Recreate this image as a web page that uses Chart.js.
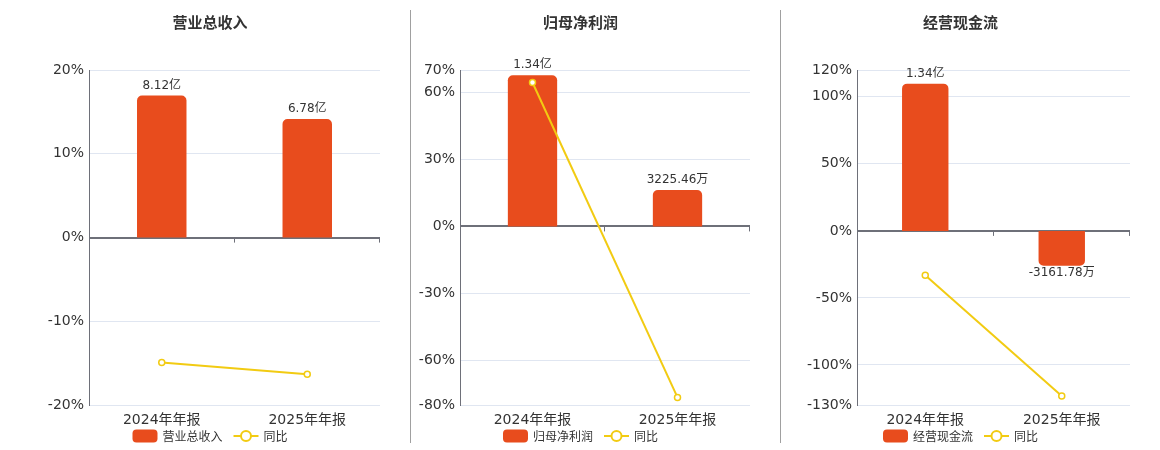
<!DOCTYPE html>
<html>
<head>
<meta charset="utf-8">
<script src="https://cdn.jsdelivr.net/npm/chart.js@4/dist/chart.umd.min.js"></script>
<style>
  body { margin: 0; background: #fff; }
  #wrap { position: relative; width: 1160px; height: 450px; }
  .panel { position: absolute; top: 0; height: 450px; }
  .sep { position: absolute; top: 10px; height: 433px; width: 1px; background: #a0a0a0; }
</style>
</head>
<body>
<div id="wrap">
  <div class="panel" style="left:40px;width:370px"><canvas id="c1"></canvas></div>
  <div class="sep" style="left:410px"></div>
  <div class="panel" style="left:411px;width:369px"><canvas id="c2"></canvas></div>
  <div class="sep" style="left:780px"></div>
  <div class="panel" style="left:791px;width:369px"><canvas id="c3"></canvas></div>
</div>
<script>
// values in 万元, yoy in %
const categories = ['2024年年报', '2025年年报'];

const revenue = [81200, 67800];
const revenueYoY = [-14.9, -16.3];
const revenueTicks = [-20, -10, 0, 10, 20];

const netProfit = [13400, 3225.46];
const netProfitYoY = [64.4, -76.5];
const netProfitTicks = [-80, -60, -30, 0, 30, 60, 70];

const cashFlow = [13400, -3161.78];
const cashFlowYoY = [-33.0, -123.1];
const cashFlowTicks = [-130, -100, -50, 0, 50, 100, 120];

const BAR_COLOR = '#e84c1d';
const LINE_COLOR = '#f2cb12';
const FONT = '"DejaVu Sans", "Noto Sans CJK SC", sans-serif';
const CJK = '"Noto Sans CJK SC", sans-serif';

function fmtAmount(v) {
  if (Math.abs(v) >= 10000) return (v / 10000).toFixed(2) + '亿';
  return v.toFixed(2) + '万';
}

const barLabels = {
  id: 'barLabels',
  afterDatasetsDraw(chart) {
    const ctx = chart.ctx;
    const meta = chart.getDatasetMeta(0);
    const data = chart.data.datasets[0].data;
    ctx.save();
    ctx.font = '12px ' + FONT;
    ctx.fillStyle = '#333';
    ctx.textAlign = 'center';
    ctx.textBaseline = 'middle';
    meta.data.forEach((el, i) => {
      const v = data[i];
      const y = v >= 0 ? el.y - 10 : el.y + 7;
      ctx.fillText(fmtAmount(v), el.x, y);
    });
    ctx.restore();
  }
};

const zeroTicks = {
  id: 'zeroTicks',
  afterDatasetsDraw(chart) {
    const x = chart.scales.x;
    const y0 = chart.scales.y.getPixelForValue(0);
    const ctx = chart.ctx;
    const n = chart.data.labels.length;
    ctx.save();
    ctx.strokeStyle = '#6e7079';
    ctx.lineWidth = 1;
    for (let i = 1; i <= n; i++) {
      const px = Math.round(x.left + i * (x.width / n)) - 0.5;
      ctx.beginPath();
      ctx.moveTo(px, y0);
      ctx.lineTo(px, y0 + 5);
      ctx.stroke();
    }
    ctx.restore();
  }
};

const bottomLegend = {
  id: 'bottomLegend',
  afterDraw(chart) {
    const ctx = chart.ctx;
    const ds = chart.data.datasets;
    ctx.save();
    ctx.font = '12px ' + CJK;
    const w0 = ctx.measureText(ds[0].label).width;
    const w1 = ctx.measureText(ds[1].label).width;
    const total = 25 + 5 + w0 + 11 + 25 + 5 + w1;
    let x = chart.chartArea.right / 2 - total / 2;
    const cy = 436;
    ctx.fillStyle = BAR_COLOR;
    ctx.beginPath();
    ctx.roundRect(x, cy - 6.5, 25, 13, 4);
    ctx.fill();
    x += 30;
    ctx.fillStyle = '#333';
    ctx.textBaseline = 'middle';
    ctx.fillText(ds[0].label, x, cy);
    x += w0 + 11;
    ctx.strokeStyle = LINE_COLOR;
    ctx.lineWidth = 2;
    ctx.beginPath();
    ctx.moveTo(x, cy);
    ctx.lineTo(x + 25, cy);
    ctx.stroke();
    ctx.beginPath();
    ctx.arc(x + 12.5, cy, 5, 0, Math.PI * 2);
    ctx.fillStyle = '#fff';
    ctx.fill();
    ctx.stroke();
    x += 30;
    ctx.fillStyle = '#333';
    ctx.fillText(ds[1].label, x, cy);
    ctx.restore();
  }
};

function makeChart(id, title, bars, yoy, ticks, barRange, axisWidth) {
  new Chart(document.getElementById(id), {
    type: 'bar',
    data: {
      labels: categories,
      datasets: [
        {
          type: 'bar',
          label: title,
          data: bars,
          yAxisID: 'y2',
          backgroundColor: BAR_COLOR,
          borderRadius: 5,
          categoryPercentage: 1,
          barPercentage: 0.34,
          order: 1
        },
        {
          type: 'line',
          label: '同比',
          data: yoy,
          yAxisID: 'y',
          borderColor: LINE_COLOR,
          borderWidth: 2,
          pointRadius: 3,
          pointBorderWidth: 1.5,
          pointBackgroundColor: '#fff',
          pointBorderColor: LINE_COLOR,
          order: 0
        }
      ]
    },
    options: {
      responsive: true,
      maintainAspectRatio: false,
      animation: false,
      layout: { padding: { right: 30, bottom: 14 } },
      plugins: {
        legend: { display: false },
        tooltip: { enabled: false },
        title: {
          display: true,
          text: title,
          color: '#333',
          font: { size: 15, weight: 'bold', family: CJK },
          padding: { top: 13, bottom: 39 }
        }
      },
      scales: {
        x: {
          grid: { display: false, drawTicks: false },
          border: { display: false },
          ticks: { color: '#333', font: { size: 14, family: FONT }, padding: 7 }
        },
        y: {
          min: ticks[0],
          max: ticks[ticks.length - 1],
          afterBuildTicks: (axis) => { axis.ticks = ticks.map(v => ({ value: v })); },
          afterFit: (axis) => { axis.width = axisWidth; },
          border: { display: true, color: '#6e7079' },
          grid: {
            drawTicks: false,
            color: (c) => c.tick && c.tick.value === 0 ? '#6e7079' : '#e0e6f1',
            lineWidth: (c) => c.tick && c.tick.value === 0 ? 2 : 1
          },
          ticks: {
            autoSkip: false,
            color: '#333',
            padding: 5,
            font: { size: 14, family: FONT },
            callback: (v) => v + '%'
          }
        },
        y2: {
          display: false,
          min: barRange[0],
          max: barRange[1]
        }
      }
    },
    plugins: [barLabels, zeroTicks, bottomLegend]
  });
}

makeChart('c1', '营业总收入', revenue, revenueYoY, revenueTicks, [-95800, 95800], 49);
makeChart('c2', '归母净利润', netProfit, netProfitYoY, netProfitTicks, [-15840, 13860], 49);
makeChart('c3', '经营现金流', cashFlow, cashFlowYoY, cashFlowTicks, [-15860, 14640], 66);
</script>
</body>
</html>
